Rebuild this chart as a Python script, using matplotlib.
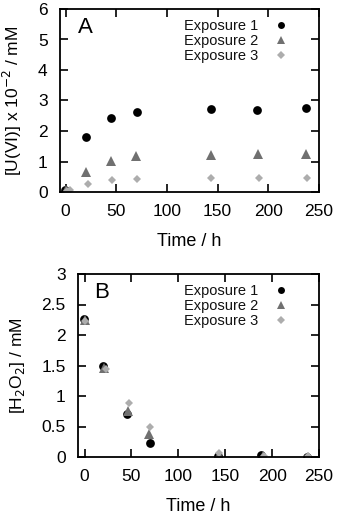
import matplotlib
matplotlib.use("Agg")
import matplotlib.pyplot as plt
from matplotlib.lines import Line2D

plt.rcParams['font.family'] = ['Liberation Sans', 'DejaVu Sans']

# Panel A: [U(VI)] x 10^-2 / mM
a_t1 = [-1, 20, 45, 70, 143, 189, 237]
a_u1 = [0.08, 1.80, 2.41, 2.62, 2.72, 2.70, 2.75]
a_t2 = [0, 20, 45, 69, 143, 190, 237]
a_u2 = [0.08, 0.65, 1.02, 1.17, 1.20, 1.24, 1.24]
a_t3 = [1, 4, 22, 46, 70, 143, 191, 238]
a_u3 = [0.02, 0.06, 0.26, 0.38, 0.42, 0.45, 0.45, 0.45]

# Panel B: [H2O2] / mM
b_t1 = [-1, 20, 45, 70, 142, 188, 237]
b_h1 = [2.27, 1.49, 0.71, 0.23, 0.02, 0.04, 0.00]
b_t2 = [0, 21, 46, 69, 143, 190, 238]
b_h2 = [2.25, 1.46, 0.76, 0.38, 0.04, 0.02, 0.00]
b_t3 = [0, 23, 47, 70, 143, 191, 238]
b_h3 = [2.23, 1.45, 0.88, 0.49, 0.07, 0.02, 0.01]

labels = ["Exposure 1", "Exposure 2", "Exposure 3"]
xticks = [0, 50, 100, 150, 200, 250]
a_yticks = [0, 1, 2, 3, 4, 5, 6]
b_yticks = [0, 0.5, 1, 1.5, 2, 2.5, 3]
b_yticklabels = ["0", "0.5", "1", "1.5", "2", "2.5", "3"]

W, H = 339, 514
fig = plt.figure(figsize=(W / 100, H / 100), dpi=100)

def ax_at(l, t, r, b):
    return fig.add_axes([l / W, 1 - b / H, (r - l) / W, (b - t) / H])

axA = ax_at(59.5, 9, 319, 192)
axB = ax_at(77.5, 274, 319, 457)

styles = [
    dict(marker='o', color='black', ms=6.3, lms=5.0),
    dict(marker='^', color='#707070', ms=6.5, lms=5.2),
    dict(marker='D', color='#adadad', ms=4.4, lms=3.6),
]

def draw(ax, series, xlim, ylim, yticks, yticklabels, letter, ylabel, legx):
    for (t, v), st, lab in zip(series, styles, labels):
        ax.plot(t, v, linestyle='none', marker=st['marker'], color=st['color'],
                ms=st['ms'], markeredgewidth=0, label=lab)
    ax.set_xlim(*xlim)
    ax.set_ylim(*ylim)
    ax.set_xticks(xticks)
    ax.set_yticks(yticks)
    ax.set_yticklabels(yticklabels)
    ax.tick_params(direction='in', top=True, right=True, length=6, width=1.2,
                   labelsize=12.5, pad=8.5, colors='black')
    for s in ax.spines.values():
        s.set_linewidth(1.3)
    ax.set_xlabel("Time / h", fontsize=13, labelpad=10)
    ax.set_ylabel(ylabel, fontsize=12.5, labelpad=10)
    ax.text(0.07, 0.90, letter, transform=ax.transAxes, fontsize=16,
            ha='left', va='center')
    handles = [Line2D([], [], linestyle='none', marker=st['marker'], color=st['color'],
                      ms=st['lms'], markeredgewidth=0) for st in styles]
    leg = ax.legend(handles, labels, loc='upper right', bbox_to_anchor=(legx, 0.945),
                    frameon=False, fontsize=10.5, markerfirst=False, handletextpad=1.05,
                    labelspacing=0.08, handlelength=1.0, borderpad=0, borderaxespad=0)
    for txt in leg.get_texts():
        txt.set_color('#111111')

draw(axA, [(a_t1, a_u1), (a_t2, a_u2), (a_t3, a_u3)], (-6, 250), (0, 6),
     a_yticks, [str(v) for v in a_yticks], "A", r"[U(VI)] x 10$^{-2}$ / mM", 0.880)
draw(axB, [(b_t1, b_h1), (b_t2, b_h2), (b_t3, b_h3)], (-7.5, 250), (0, 3),
     b_yticks, b_yticklabels, "B", r"[H$_2$O$_2$] / mM", 0.872)

fig.savefig("out.png", dpi=100)
